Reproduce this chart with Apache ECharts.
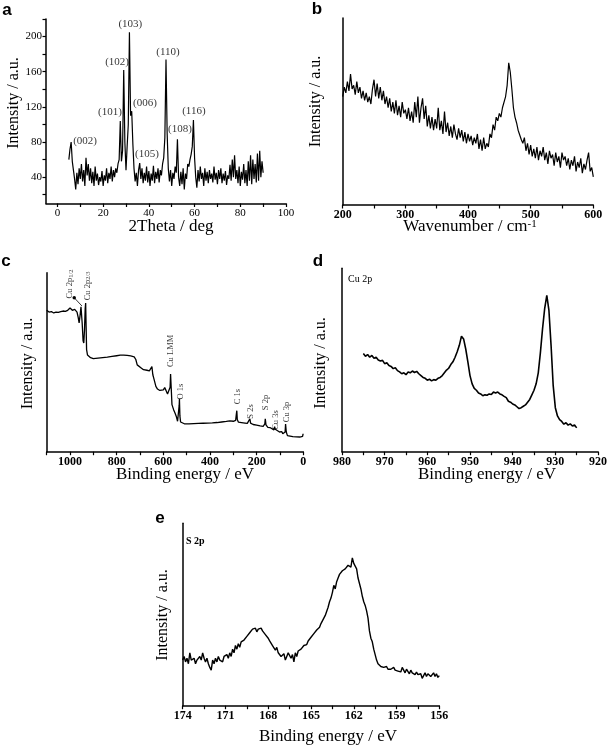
<!DOCTYPE html>
<html><head><meta charset="utf-8">
<script src="https://cdn.jsdelivr.net/npm/echarts@6/dist/echarts.min.js"></script>
<style>html,body{margin:0;padding:0;background:#fff}#c{width:609px;height:747px}</style>
</head><body><div id="c"></div>
<script>
// ---------- Panel a: XRD ----------
const xrdStart = 5, xrdEnd = 90;
const xrdIntensity = [
 60,72,80,58,48,38,26,45,32,50,
 38,55,35,48,30,62,42,55,36,50,
 33,46,30,52,36,44,31,40,35,47,
 30,42,36,50,33,45,38,52,35,48,
 40,50,45,55,60,104,58,70,162,80,
 48,75,100,205,110,115,78,50,35,45,
 30,48,56,38,50,33,45,36,52,34,
 47,30,44,36,53,33,46,38,50,34,
 48,42,55,62,85,174,90,50,35,48,
 30,45,38,52,45,83,40,30,46,32,
 50,26,44,38,55,52,60,66,75,105,
 62,40,28,48,35,52,38,45,30,50,
 36,46,33,48,38,44,34,52,37,45,
 32,48,38,50,33,44,36,47,31,42,
 38,54,36,60,40,65,38,48,33,52,
 30,46,37,55,33,48,30,58,36,65,
 32,60,38,55,34,67,36,70,40,58,
 45];
const xrdXLabels = [0,20,40,60,80,100];
const xrdXTicks = [0,10,20,30,40,50,60,70,80,90,100];
const xrdYLabels = [40,80,120,160,200];
const xrdYTicks = [20,40,60,80,100,120,140,160,180,200,220];
const xrdPeakNames = ['(002)','(101)','(102)','(103)','(006)','(105)','(110)','(108)','(116)'];
const xrdPeakX = [12.1,23.0,26.1,31.9,38.3,39.2,48.4,53.6,59.7];
const xrdPeakY = [80.8,113.6,171,214.4,123.8,66,182.7,94.4,114.7];

// ---------- Panel b: Raman ----------
const ramanStart = 200, ramanEnd = 600;
const ramanIntensity = [
 58,63,60,66,61,70,62,64,59,66,
 60,63,57,61,56,60,55,58,54,62,
 67,58,65,57,63,56,61,54,58,52,
 57,50,55,49,56,48,53,47,55,49,
 51,46,52,45,50,44,55,47,58,44,
 52,57,46,53,42,48,41,47,40,46,
 41,52,40,45,38,50,39,44,37,42,
 36,43,38,35,41,36,40,34,39,33,
 38,34,37,32,36,33,38,30,35,29,
 36,30,33,31,38,36,43,40,47,45,
 49,47,52,53,58,64,76,71,62,52,
 47,44,40,41,35,33,36,29,33,27,
 32,26,30,25,31,24,29,26,31,24,
 28,22,29,25,27,21,28,23,26,20,
 28,24,26,21,25,19,24,21,26,18,
 23,20,25,17,22,19,24,28,18,20,
 15];
const ramanLabels = [200,300,400,500,600];
const ramanTicks = [200,250,300,350,400,450,500,550,600];

// ---------- Panel c: XPS survey ----------
const surveyEnergy = [1100,1090,1080,1070,1060,1050,1040,1030,1020,1010,1000,995,990,985,980,975,970,965,961,957,953,951,948,944,941,938,935,933,931,929,925,920,912,900,880,860,840,820,800,785,770,755,740,725,718,712,705,695,685,670,660,652,649,645,640,632,625,615,607,600,594,588,582,575,571,569,566,563,556,550,544,539,535,532,531,529,526,520,510,490,470,450,430,410,390,370,350,330,315,300,290,287,285,283,278,265,250,240,232,229,226,215,200,185,172,165,163,160,152,143,135,126,123,120,112,102,96,92,88,82,78,76,73,68,60,45,30,15,8,3,1,0];
const surveyIntensity = [79,78,78.3,77.5,78,77.8,78.2,78.6,78.4,79,80.3,79.5,79,79.8,79.5,80.6,78,75,72,76,81,82,72,62,60.7,68,80,83,70,57,54,53,52.5,52,52.3,52.6,52.8,53.2,53.6,53.9,54,53.8,53.5,53,51.5,48.5,47.5,46.8,45.8,45.5,45.2,46,47.5,43,40.5,36.5,35,34.2,33.7,34.5,35.8,34,32.2,33,36,43.4,35,26.3,23.5,21.6,19.5,17,18,26,29.4,20,16.6,15.8,15.6,15.6,15.7,15.8,15.9,16,16.1,16.3,16.6,16.9,17.2,17,17.5,21,22.9,18,16.5,16.3,16,15.8,16.5,18.4,16,15.2,14.8,14.4,14.2,15.5,18.4,15,13.6,13.5,13,12.2,14,12.5,11.5,11,10.5,11.2,10,9.5,11,15.5,11,9,8.6,8.4,8.3,8.2,8,8.5,10,9.5];
const surveyLabels = [0,200,400,600,800,1000];
const surveyTicks = [0,100,200,300,400,500,600,700,800,900,1000,1100];
const surveyPeakNames = ['Cu 2p','Cu 2p','Cu LMM','O 1s','C 1s','S 2s','S 2p','Cu 3s','Cu 3p'];
const surveyPeakSubs = ['1/2','2/3','','','','','','',''];
const surveyPeakX = [999.6,925,567,524,282,224,160,117,72];
const surveyPeakY = [93.7,92.6,56.3,33.6,30.8,22.5,27.5,17.7,22.2];
const surveyPointerX = [982,949];
const surveyPointerY = [86,81.4];

// ---------- Panel d: Cu 2p ----------
const cu2pStart = 975, cu2pEnd = 925;
const cu2pIntensity = [
 53.5,52,53,51.5,52.5,51,51.5,50,49.5,49.8,
 48,48.5,47,46.5,45.3,45.8,44.2,43.5,42.5,43,
 42,43.5,43,44,43.2,43.8,42.5,41.5,40.5,40,
 39,39.5,38.6,39.3,39,40,40.5,41.5,43,44.5,
 45.5,47.5,49,51.5,54.5,58,63,61.5,56,49,
 41.5,37,34.5,33.5,32,31.5,30.5,31,30.8,31.5,
 31.2,32.5,32,32.5,31.5,31,30.2,29.5,27.5,27,
 26,25.5,24.5,23.5,24,24.8,25.5,27,28.5,31,
 33.5,37,43,54,67,78,85.3,77,58,36,
 24,19.5,17.5,16.5,15,15.8,14.5,15.2,14,14.6,
 13];
const cu2pLabels = [920,930,940,950,960,970,980];
const cu2pTicks = [920,925,930,935,940,945,950,955,960,965,970,975,980];

// ---------- Panel e: S 2p ----------
const s2pStart = 174, s2pEnd = 156;
const s2pIntensity = [
 25,27,24,26,23,29,25,24,26,23,
 25,24,27,25,29,26,24,26,23,21,
 19.5,25,23,26,24,27,25,26,24,27,
 26,28,26,29,27,31,29,33,31,34,
 32,35,34,36,35,38,37,40,39,42,
 41,42.5,40.5,42,41,42.5,41,42,39,40,
 37,35.5,36,33,33.5,30.5,32,29,28,27,
 26,28.5,25,27,29,30,26,28,24,29,
 27,30,29.5,31,32,33,34,33.5,35.5,36,
 37.5,38,39.5,40,41.5,42,43,45,46,48,
 49.5,50,54,57,59,62,66,64,68,70,
 72,71,74,73,75,74.5,77,77.5,76,81,
 78,77,75,70,67,64,60,57,55,52,
 48,41,37,35,31,28,25,23,22.5,21.5,
 22,21,20.5,21.5,20,21,20,19.5,21,19.5,
 20.5,19,20,18.5,21,19.5,18,20,19,17.5,
 19.5,18,19,17,18.5,17,16,17.5,15,16.5,
 18,16,17.5,18,16,17,18,16,17.5,15.5,
 16.5];
const s2pLabels = [156,159,162,165,168,171,174];
const s2pTicks = [156,157.5,159,160.5,162,163.5,165,166.5,168,169.5,171,172.5,174];

// ---------- build ----------
const SERIF = 'Liberation Serif';
function spaced(start, end, vals){
  const n = vals.length;
  return vals.map((v,i)=>[start + (end-start)*i/(n-1), v]);
}
function zip(xs, ys){ return xs.map((x,i)=>[x, ys[i]]); }

const grids = [
  {left:46, top:19, width:240, height:184.5},
  {left:342.7, top:18, width:250.6, height:187},
  {left:46.7, top:272.7, width:256.6, height:179},
  {left:342, top:268.3, width:256, height:183.4},
  {left:182.7, top:523.3, width:256.6, height:182.4}
].map(g=>Object.assign(g,{containLabel:false, outerBoundsMode:'none'}));

const axLine = {show:true, onZero:false, lineStyle:{color:'#000', width:1.5}};
const plainFmt = v => String(v);
function xAx(gi, min, max, labels, ticks, inverse, bold){
  return {gridIndex:gi, type:'value', min, max, inverse,
    axisLine:axLine,
    axisTick:{show:true, inside:false, length:3.5, customValues:ticks, lineStyle:{color:'#000', width:1.2}},
    axisLabel:{show:true, customValues:labels, formatter:plainFmt, margin:4, color:'#000', fontFamily:SERIF,
      fontSize:bold?12:11, fontWeight:bold?'bold':'normal'},
    splitLine:{show:false}, minorTick:{show:false}};
}
function yPlain(gi){
  return {gridIndex:gi, type:'value', min:0, max:100, axisLine:axLine,
    axisTick:{show:false}, axisLabel:{show:false}, splitLine:{show:false}};
}
const yA = {gridIndex:0, type:'value', min:10, max:220, axisLine:axLine,
  axisTick:{show:true, inside:false, length:3.5, customValues:xrdYTicks, lineStyle:{color:'#000', width:1.2}},
  axisLabel:{show:true, customValues:xrdYLabels, formatter:plainFmt, margin:4, color:'#000', fontFamily:SERIF, fontSize:11},
  splitLine:{show:false}};

function lineSeries(i, data, w){
  return {type:'line', xAxisIndex:i, yAxisIndex:i, data, showSymbol:false, symbol:'none',
    lineStyle:{color:'#000', width:w||1.1}, silent:true, animation:false};
}
function labelSeries(i, data, rotate, fontSize, rich){
  return {type:'scatter', xAxisIndex:i, yAxisIndex:i, symbolSize:1, itemStyle:{color:'rgba(0,0,0,0)'},
    data, silent:true, animation:false,
    label:{show:true, position:'inside', rotate, formatter:p=>p.data[2], color:'#000',
      fontFamily:SERIF, fontSize, rich}};
}

const xrdLabelData = xrdPeakNames.map((n,i)=>[xrdPeakX[i], xrdPeakY[i], n]);
const surveyLabelData = surveyPeakNames.map((n,i)=>[surveyPeakX[i], surveyPeakY[i],
  surveyPeakSubs[i] ? '{n|'+n+'}{s|'+surveyPeakSubs[i]+'}' : '{n|'+n+'}']);
const pointerData = [
  {value:[surveyPointerX[0], surveyPointerY[0]], symbol:'circle', symbolSize:3.5},
  {value:[surveyPointerX[1], surveyPointerY[1]], symbol:'none'}];

function txt(x, y, text, o){
  return {type:'text', x, y, rotation:(o&&o.rot)||0, silent:true,
    style:Object.assign({text, fill:'#000', fontFamily:SERIF, fontSize:17, align:'center', verticalAlign:'middle'}, (o&&o.style)||{})};
}
const letterStyle = {style:{fontFamily:'Liberation Sans', fontWeight:'bold', fontSize:17}};
const yTitle = (x,y)=>txt(x,y,'Intensity / a.u.',{rot:Math.PI/2, style:{fontSize:16}});

const option = {
  backgroundColor:'#fff',
  animation:false,
  grid:grids,
  xAxis:[
    xAx(0, -5, 100, xrdXLabels, xrdXTicks, false, false),
    xAx(1, 200, 600, ramanLabels, ramanTicks, false, true),
    xAx(2, 0, 1100, surveyLabels, surveyTicks, true, true),
    xAx(3, 920, 980, cu2pLabels, cu2pTicks, true, true),
    xAx(4, 156, 174, s2pLabels, s2pTicks, true, true)
  ],
  yAxis:[yA, yPlain(1), yPlain(2), yPlain(3), yPlain(4)],
  series:[
    lineSeries(0, spaced(xrdStart, xrdEnd, xrdIntensity), 1.2),
    labelSeries(0, xrdLabelData, 0, 11),
    lineSeries(1, spaced(ramanStart, ramanEnd, ramanIntensity), 1.2),
    lineSeries(2, zip(surveyEnergy, surveyIntensity), 1.3),
    labelSeries(2, surveyLabelData, 90, 8.5, {n:{fontFamily:SERIF, fontSize:8.5, color:'#000'}, s:{fontFamily:SERIF, fontSize:6.5, color:'#000', verticalAlign:'bottom'}}),
    {type:'line', xAxisIndex:2, yAxisIndex:2, data:pointerData, showSymbol:true, silent:true, animation:false,
      lineStyle:{color:'#000', width:0.8}, itemStyle:{color:'#000'}},
    lineSeries(3, spaced(cu2pStart, cu2pEnd, cu2pIntensity), 1.6),
    lineSeries(4, spaced(s2pStart, s2pEnd, s2pIntensity), 1.4)
  ],
  graphic:[
    txt(7,10,'a',letterStyle), txt(317,9,'b',letterStyle), txt(6,261,'c',letterStyle),
    txt(318,261,'d',letterStyle), txt(160,518,'e',letterStyle),
    yTitle(13.5,103), yTitle(315.5,101.5), yTitle(27.5,363.5), yTitle(320.5,363), yTitle(163,615),
    txt(171,227,'2Theta / deg'),
    txt(470,227,'{m|Wavenumber / cm}{s|-1}',{style:{rich:{m:{fontFamily:SERIF,fontSize:17,fill:'#000'}, s:{fontFamily:SERIF,fontSize:11,fill:'#000',verticalAlign:'top'}}}}),
    txt(185,475,'Binding energy / eV'),
    txt(487,475,'Binding energy / eV'),
    txt(328,737,'Binding energy / eV'),
    txt(348,279,'Cu 2p',{style:{fontSize:10, align:'left'}}),
    txt(186,541,'S 2p',{style:{fontSize:10, align:'left', fontWeight:'bold'}})
  ]
};
const chart = echarts.init(document.getElementById('c'), null, {renderer:'canvas'});
chart.setOption(option);
</script></body></html>
